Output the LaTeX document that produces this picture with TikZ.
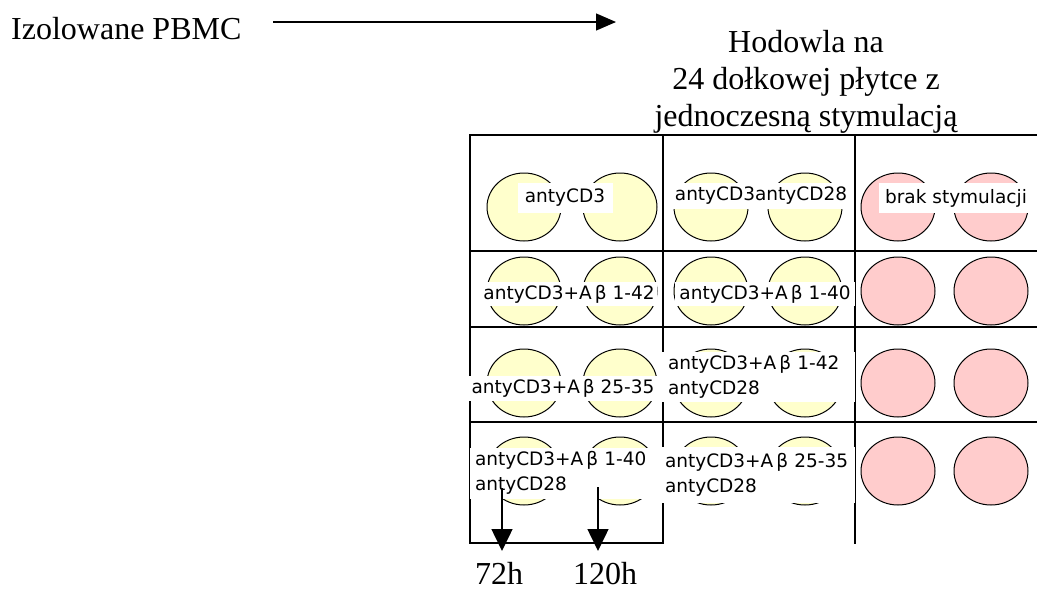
\documentclass[tikz,border=0pt]{standalone}
\usepackage{fontspec}
\setmainfont{Liberation Serif}
\newfontfamily\lblfont{DejaVu Sans}
\usetikzlibrary{arrows.meta}
\definecolor{wellyellow}{HTML}{FFFFCC}
\definecolor{wellpink}{HTML}{FFCCCC}
\tikzset{
  big/.style={font=\fontsize{32}{37}\selectfont, inner sep=0pt},
  gridline/.style={line width=1.8pt, line cap=rect},
  yw/.style={draw=black, line width=1pt, fill=wellyellow},
  pw/.style={draw=black, line width=1pt, fill=wellpink},
  lbl/.style={font=\lblfont\fontsize{18.5}{25}\selectfont, fill=white, inner sep=0pt},
  lbl2/.style={lbl, align=left},
  bigarrow/.style={line width=1.5pt, -{Triangle[length=22pt,width=21pt]}},
  toparrow/.style={line width=1.3pt, -{Triangle[length=20pt,width=17pt]}},
}
\begin{document}
\begin{tikzpicture}[x=1pt,y=-1pt]
\useasboundingbox (0,0) rectangle (1037,592);
\clip (0,0) rectangle (1037,592);
% title texts
\node[big, anchor=base west] (izol) at (11,39) {Izolowane PBMC};
\coordinate (arrS) at (273,22);
\coordinate (arrE) at (616,22);
\draw[toparrow] (arrS) -- (arrE);
\node[big, anchor=base] (t1) at (806,52) {Hodowla na};
\node[big, anchor=base] (t2) at (806,89) {24 dołkowej płytce z};
\node[big, anchor=base] (t3) at (806,126) {jednoczesną stymulacją};
% grid
\draw[gridline] (470,135) -- (1047,135);
\draw[gridline] (470,251) -- (1047,251);
\draw[gridline] (470,327) -- (1047,327);
\draw[gridline] (470,422) -- (1047,422);
\draw[gridline] (470,543) -- (663,543);
\draw[gridline] (470,135) -- (470,543);
\draw[gridline] (663,135) -- (663,543);
\draw[gridline] (855,135) -- (855,543);
% wells
\foreach \y [count=\r] in {207,291,383,471}{
  \draw[yw] (524,\y) ellipse [x radius=37, y radius=34];
  \draw[yw] (620,\y) ellipse [x radius=37, y radius=34];
  \draw[yw] (711,\y) ellipse [x radius=37, y radius=34];
  \draw[yw] (805,\y) ellipse [x radius=37, y radius=34];
  \draw[pw] (898,\y) ellipse [x radius=37, y radius=34];
  \draw[pw] (991,\y) ellipse [x radius=37, y radius=34];
}
% labels
\node[lbl, minimum width=95, minimum height=30] (l11) at (565,198) {antyCD3};
\node[lbl, minimum width=176, minimum height=26] (l12) at (761,196) {antyCD3antyCD28};
\node[lbl, minimum width=154, minimum height=30] (l13) at (956,198) {brak stymulacji};
\node[lbl, minimum width=176, minimum height=24] (l21) at (569,294) {antyCD3+A\,β 1-42};
\node[lbl, minimum width=180, minimum height=24] (l22) at (765,294) {antyCD3+A\,β 1-40};
\node[lbl, minimum width=195, minimum height=25] (l31) at (563,388) {antyCD3+A\,β 25-35};
\node[lbl2, text width=181, inner xsep=6, minimum height=50] (l32) at (758.5,377) {antyCD3+A\,β 1-42\\antyCD28};
\node[lbl2, text width=181, inner xsep=5, minimum height=51] (l41) at (565.5,473) {antyCD3+A\,β 1-40\\antyCD28};
\node[lbl2, text width=187, inner xsep=3, minimum height=56] (l42) at (758.5,475) {antyCD3+A\,β 25-35\\antyCD28};
% time arrows
\coordinate (a1s) at (502,488);
\coordinate (a1e) at (502,551);
\coordinate (a2s) at (598,487);
\coordinate (a2e) at (598,551);
\draw[bigarrow] (a1s) -- (a1e);
\draw[bigarrow] (a2s) -- (a2e);
\node[big, anchor=base west] (h72) at (475,584) {72h};
\node[big, anchor=base west] (h120) at (573,584) {120h};
\end{tikzpicture}
\end{document}
